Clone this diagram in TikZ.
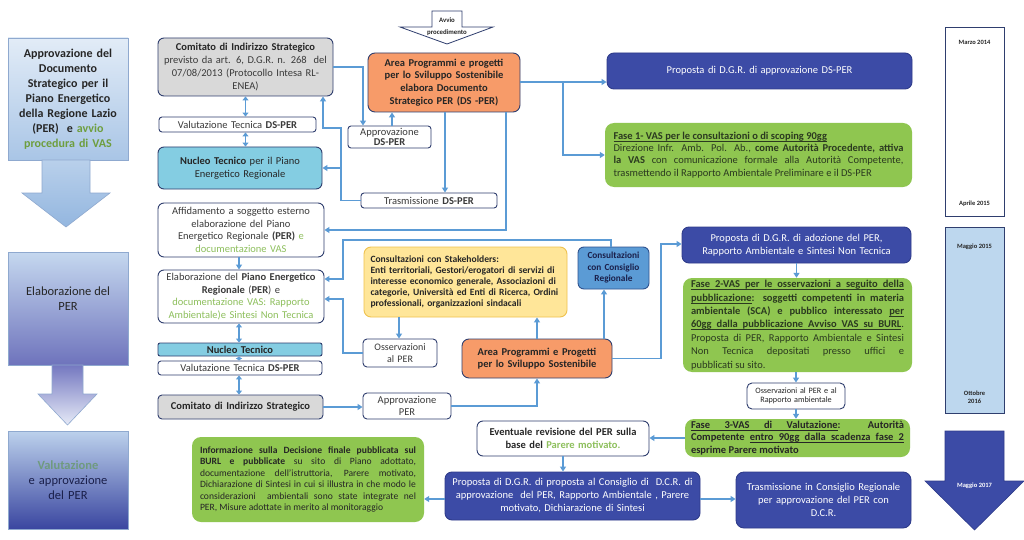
\documentclass[tikz,border=0pt]{standalone}
\usepackage{fontspec}
\setmainfont{Carlito}
\usetikzlibrary{arrows.meta}
\makeatletter
\newcommand\uw[1]{\setbox0\hbox{#1}\rlap{\vrule height -1.5pt depth 2.2pt width \wd0}\box0\relax}
\newcommand\us{\leaders\hrule height -1.5pt depth 2.2pt\hskip\fontdimen2\font plus \fontdimen3\font minus \fontdimen4\font\relax}
\def\UL#1{\UL@a#1 \@nil}
\def\UL@a#1 #2\@nil{\uw{#1}\ifx\relax#2\relax\else\us\UL@a#2\@nil\fi}
\makeatother
\definecolor{bord}{HTML}{2F3E6E}
\definecolor{conn}{HTML}{5B9BD5}
\definecolor{dblue}{HTML}{3C4BA6}
\definecolor{dbord}{HTML}{2E3B8A}
\definecolor{vgreen}{HTML}{8FC650}
\definecolor{orng}{HTML}{F79B69}
\definecolor{gry}{HTML}{D9D9D9}
\definecolor{cyn}{HTML}{84CDE2}
\definecolor{ylw}{HTML}{FFE699}
\definecolor{ylwb}{HTML}{EFC24F}
\definecolor{cblue}{HTML}{5B9BD5}
\definecolor{cbord}{HTML}{2F528F}
\definecolor{lgreen}{HTML}{8DBF5C}
\definecolor{vasgreen}{HTML}{6E9E3E}
\definecolor{valgreen}{HTML}{6F9A7F}
\definecolor{txt}{HTML}{262626}
\definecolor{gtxt}{HTML}{3A3A3A}
\definecolor{gdark}{HTML}{2B3A20}
\definecolor{rlblue}{HTML}{BDD7EE}
\definecolor{ltxt}{HTML}{1A1F4A}
\definecolor{lbb}{HTML}{8FA9CF}
\definecolor{la}{HTML}{E2ECF7}
\definecolor{lb}{HTML}{A9C5E6}
\definecolor{a1t}{HTML}{B9D0EB}
\definecolor{a1b}{HTML}{93B6DF}
\definecolor{l2t}{HTML}{C5D8EF}
\definecolor{l2b}{HTML}{6E73BC}
\definecolor{a2t}{HTML}{7478C0}
\definecolor{a2b}{HTML}{E6EAF7}
\definecolor{l3t}{HTML}{BCD1EC}
\definecolor{l3b}{HTML}{3A46A0}
\begin{document}
\begin{tikzpicture}[x=1pt,y=-1pt,
  every node/.style={text=txt},
  bx/.style n args={3}{minimum width=#1, minimum height=#2, text width=#3},
  wbox/.style={draw=bord, line width=0.9pt, fill=white, rounded corners=6pt, align=center, inner sep=1pt, font=\fontsize{10.5}{12.5}\selectfont, text=gtxt},
  sbox/.style={wbox, rounded corners=3pt},
  gbox/.style={wbox, fill=gry, text=txt},
  cbox/.style={wbox, fill=cyn, text=txt},
  obox/.style={draw=bord, line width=0.9pt, fill=orng, rounded corners=7pt, align=center, inner sep=1pt, font=\bfseries\fontsize{10.5}{12.7}\selectfont, text=txt},
  bbox/.style={draw=dbord, line width=0.9pt, fill=dblue, rounded corners=7pt, align=center, inner sep=1pt, font=\fontsize{10.5}{12.7}\selectfont, text=white},
  grbox/.style={fill=vgreen, rounded corners=9pt, inner sep=1pt, font=\fontsize{10.5}{12.3}\selectfont, text=gdark, align=justify},
  lbox/.style={draw=lbb, line width=0.6pt, align=center, inner sep=2pt, text width=114},
  rlab/.style={font=\bfseries\fontsize{6.5}{8}\selectfont, text=txt, align=center},
  arr/.style={draw=conn, line width=1.6pt, -{Triangle[length=5pt,width=6pt]}},
  dbl/.style={draw=conn, line width=1.6pt, {Triangle[length=4pt,width=6pt]}-{Triangle[length=4pt,width=6pt]}},
  sdbl/.style={draw=conn, line width=1.6pt, {Triangle[length=2.4pt,width=6pt]}-{Triangle[length=2.4pt,width=6pt]}},
]
\useasboundingbox (0,0) rectangle (1024,540);
\fill[white] (0,0) rectangle (1024,540);

% ---------- left column ----------
\node[lbox, top color=la, bottom color=lb, minimum width=120, minimum height=122, font=\bfseries\fontsize{12}{15}\selectfont] (l1) at (68,99) {Approvazione del\\Documento\\Strategico per il\\Piano Energetico\\della Regione Lazio\\(PER)\ \ e \textcolor{vasgreen}{avvio}\\\textcolor{vasgreen}{procedura di VAS}};
\path[draw=lbb, line width=0.6pt, top color=a1t, bottom color=a1b] (42,160) -- (90,160) -- (90,193) -- (110,193) -- (66,227) -- (22,193) -- (42,193) -- cycle;
\node[lbox, top color=l2t, bottom color=l2b, minimum width=120, minimum height=113] (l2) at (68,308.5) {};
\node[font=\fontsize{12.5}{15}\selectfont, align=center, text=txt] (l2t) at (68,299) {Elaborazione del\\PER};
\path[draw=lbb, line width=0.6pt, top color=a2t, bottom color=a2b] (52,365) -- (83,365) -- (83,394) -- (97,394) -- (67.5,425) -- (38,394) -- (52,394) -- cycle;
\node[lbox, top color=l3t, bottom color=l3b, minimum width=120, minimum height=98, font=\fontsize{12.5}{15}\selectfont, text=ltxt] (l3) at (68,480) {\textcolor{valgreen}{\bfseries Valutazione}\\e approvazione\\del PER};

% ---------- middle column ----------
\node[gbox, bx={175}{58}{170}, font=\fontsize{10.5}{12.7}\selectfont] (com1) at (245.5,67) {\textbf{Comitato di Indirizzo Strategico}\\\textcolor{gtxt}{previsto da art. 6, D.G.R. n. 268\ \ del}\\\textcolor{gtxt}{07/08/2013 (Protocollo Intesa RL-}\\\textcolor{gtxt}{ENEA)}};
\node[sbox, bx={157}{15}{155}] (val1) at (237.5,124.5) {Valutazione Tecnica \textbf{DS-PER}};
\node[cbox, bx={164}{42}{160}] (nuc1) at (240,168) {\textbf{Nucleo Tecnico} per il Piano\\Energetico Regionale};
\node[sbox, bx={83}{22}{80}, font=\fontsize{10.5}{10.5}\selectfont] (appr1) at (389.5,137) {Approvazione\\\textbf{DS-PER}};
\node[obox, bx={152}{59}{150}] (area1) at (444,82.5) {Area Programmi e progetti\\per lo Sviluppo Sostenibile\\elabora Documento\\Strategico PER (DS -PER)};
\path[draw=bord, fill=white, line width=0.8pt] (432,11) -- (462,11) -- (462,27) -- (493,27) -- (447,44) -- (400,27) -- (432,27) -- cycle;
\node[font=\bfseries\fontsize{6.8}{7}\selectfont] (avvio) at (447,20) {Avvio};
\node[font=\bfseries\fontsize{6.8}{7}\selectfont] (proc) at (447,32.5) {procedimento};
\node[sbox, bx={136}{15}{134}] (tras1) at (429,200.5) {Trasmissione \textbf{DS-PER}};

\node[wbox, bx={166}{54}{162}] (aff) at (241,230) {Affidamento a soggetto esterno\\elaborazione del Piano\\Energetico Regionale \textbf{(PER)} \textcolor{lgreen}{e}\\\textcolor{lgreen}{documentazione VAS}};
\node[wbox, bx={166}{53}{162}] (elab) at (241,296.5) {Elaborazione del \textbf{Piano Energetico}\\\textbf{Regionale} (\textbf{PER}) e\\\textcolor{lgreen}{documentazione VAS: Rapporto}\\\textcolor{lgreen}{Ambientale)e Sintesi Non Tecnica}};
\node[cbox, rounded corners=2pt, bx={164}{13}{160}, font=\bfseries\fontsize{10.5}{11}\selectfont] (nuc2) at (240,349.5) {Nucleo Tecnico};
\node[sbox, bx={164}{14}{160}] (val2) at (240,368) {Valutazione Tecnica \textbf{DS-PER}};
\node[gbox, rounded corners=4pt, bx={165}{24}{160}] (com2) at (240.5,407) {\textbf{Comitato di Indirizzo Strategico}};
\node[sbox, rounded corners=4pt, bx={88}{26}{85}, font=\fontsize{10.5}{12}\selectfont] (apprper) at (407,406) {Approvazione\\PER};
\node[obox, bx={150}{39}{146}, font=\bfseries\fontsize{10.5}{12.5}\selectfont] (area2) at (537,358.5) {Area Programmi e Progetti\\per lo Sviluppo Sostenibile};
\node[draw=ylwb, line width=0.9pt, fill=ylw, rounded corners=7pt, bx={203}{70}{190}, align=left, inner sep=1pt, font=\bfseries\fontsize{9.6}{10.8}\selectfont, text=txt] (stake) at (465.5,282) {Consultazioni con Stakeholders:\\Enti territoriali, Gestori/erogatori di servizi di\\interesse economico generale, Associazioni di\\categorie, Università ed Enti di Ricerca, Ordini\\professionali, organizzazioni sindacali};
\node[sbox, rounded corners=4pt, bx={74}{28}{72}, font=\fontsize{10}{11.7}\selectfont] (oss1) at (400,353) {Osservazioni\\al PER};
\node[draw=cbord, line width=0.9pt, fill=cblue, rounded corners=6pt, bx={71}{42}{69}, align=center, inner sep=1pt, font=\bfseries\fontsize{9.3}{11.5}\selectfont, text=ltxt] (cons) at (613.5,268) {Consultazioni\\con Consiglio\\Regionale};

% ---------- right part ----------
\node[bbox, bx={305}{36}{300}] (prop1) at (759.5,71) {Proposta di D.G.R. di approvazione DS-PER};
\node[grbox, bx={307}{64}{290}] (fase1) at (758.5,155) {\textbf{\UL{Fase 1- VAS per le consultazioni o di scoping 90gg}}\\Direzione Infr. Amb. Pol. Ab., \textbf{come Autorità Procedente, attiva}\linebreak\textbf{la VAS} con comunicazione formale alla Autorità Competente,\linebreak trasmettendo il Rapporto Ambientale Preliminare e il DS-PER};
\node[bbox, bx={229}{36}{225}] (prop2) at (796.5,245) {Proposta di D.G.R. di adozione del PER,\\Rapporto Ambientale e Sintesi Non Tecnica};
\node[grbox, bx={229}{94}{213}, font=\fontsize{10.5}{13.4}\selectfont] (fase2) at (797.5,325) {\textbf{\UL{Fase 2-VAS per le osservazioni a seguito della}\linebreak\UL{pubblicazione}: soggetti competenti in materia\linebreak ambientale (SCA) e pubblico interessato \UL{per}\linebreak\UL{60gg dalla pubblicazione Avviso VAS su BURL}}.\linebreak Proposta di PER, Rapporto Ambientale e Sintesi\linebreak Non Tecnica depositati presso uffici e\linebreak pubblicati su sito.};
\node[sbox, rounded corners=5pt, bx={98}{26}{96}, font=\fontsize{8.2}{9.5}\selectfont, text=txt] (oss2) at (796,396) {Osservazioni al PER e al\\Rapporto ambientale};
\node[grbox, bx={225}{38}{213}, font=\bfseries\fontsize{10.5}{12.8}\selectfont, text=txt] (fase3) at (797.5,438) {\UL{Fase 3-VAS di Valutazione}: Autorità\linebreak Competente \UL{entro 90gg dalla scadenza fase 2}\linebreak esprime Parere motivato};
\node[wbox, bx={172}{35}{168}, font=\bfseries\fontsize{10.5}{13}\selectfont, text=txt] (ev) at (563,438.5) {Eventuale revisione del PER sulla\\base del \textcolor{lgreen}{Parere motivato.}};
\node[bbox, bx={255}{48}{250}, font=\fontsize{10.5}{13}\selectfont] (prop3) at (572.5,496) {Proposta di D.G.R. di proposta al Consiglio di\ \ D.C.R. di\\approvazione\ \ del PER, Rapporto Ambientale , Parere\\motivato, Dichiarazione di Sintesi};
\node[bbox, rounded corners=8pt, bx={175}{56}{170}] (tras2) at (823.5,500) {Trasmissione in Consiglio Regionale\\per approvazione del PER con\\D.C.R.};
\node[grbox, bx={232}{85}{216}, font=\fontsize{9.6}{11.4}\selectfont, text=txt] (info) at (308,479.5) {\textbf{Informazione sulla Decisione finale pubblicata sul}\linebreak\textbf{BURL e pubblicate} su sito di Piano adottato,\linebreak documentazione dell’istruttoria, Parere motivato,\linebreak Dichiarazione di Sintesi in cui si illustra in che modo le\linebreak considerazioni\ \ ambientali sono state integrate nel\linebreak PER, Misure adottate in merito al monitoraggio};

% ---------- timeline ----------
\node[draw=bord, line width=0.8pt, fill=white, minimum width=59, minimum height=189] (r1) at (974.5,121.5) {};
\node[rlab] (t1) at (974.5,42) {Marzo 2014};
\node[rlab] (t2) at (974.5,204) {Aprile 2015};
\node[draw=bord, line width=0.8pt, fill=rlblue, minimum width=59, minimum height=186] (r2) at (974.5,320) {};
\node[rlab] (t3) at (974.5,247) {Maggio 2015};
\node[rlab] (t4) at (974.5,397) {Ottobre\\2016};
\path[fill=dblue, draw=dbord, line width=0.6pt] (945,431) -- (1004,431) -- (1004,481) -- (1024,481) -- (974.5,530) -- (925,481) -- (945,481) -- cycle;
\node[rlab, text=white] (t5) at (974.5,486) {Maggio 2017};

% ---------- connectors ----------
\draw[dbl] (com1.south) -- (com1.south |- val1.north);
\draw[dbl] (com1.south |- val1.south) -- (com1.south |- nuc1.north);
\draw[arr] (tras1.west) -- (341,200.5) -- (341,128) -- (323,128) -- (323,0 |- com1.south);
\draw[arr] (341,168) -- (nuc1.east);
\draw[arr] (com1.east) -- (363,67) -- (363,0 |- appr1.north);
\draw[arr] (392,0 |- appr1.north) -- (392,0 |- area1.south);
\draw[arr] (445,0 |- area1.south) -- (445,0 |- tras1.north);
\draw[arr] (506,0 |- area1.south) -- (506,230) -- (aff.east);
\draw[arr] (area1.east |- 0,82) -- (prop1.west |- 0,82);
\draw[arr] (563,82) -- (563,155) -- (fase1.west);
\draw[arr] (239,0 |- aff.south) -- (239,0 |- elab.north);
\draw[dbl] (239,0 |- elab.south) -- (239,0 |- nuc2.north);
\draw[sdbl] (239,0 |- nuc2.south) -- (239,0 |- val2.north);
\draw[dbl] (239,0 |- val2.south) -- (239,0 |- com2.north);
\draw[arr] (com2.east) -- (com2.east -| apprper.west);
\draw[arr] (apprper.east) -| (area2.south);
\draw[arr] (area2.north) -- (area2.north |- stake.south);
\draw[arr] (604,0 |- area2.north) -- (604,0 |- cons.south);
\draw[arr] (area2.east) -- (661,358.5) -- (661,244) -- (prop2.west |- 0,244);
\draw[arr] (399,0 |- stake.south) -- (399,0 |- oss1.north);
\draw[arr] (oss1.west) -- (343,353) -- (343,299) -- (elab.east |- 0,299);
\draw[arr] (611,0 |- cons.north) -- (611,240) -- (343,240) -- (343,279) -- (elab.east |- 0,279);
\draw[arr] (prop2.south) -- (prop2.south |- fase2.north);
\draw[arr] (oss2.north |- fase2.south) -- (oss2.north);
\draw[arr] (oss2.south) -- (oss2.south |- fase3.north);
\draw[arr] (fase3.west) -- (fase3.west -| ev.east);
\draw[arr] (ev.south) -- (ev.south |- prop3.north);
\draw[arr] (prop3.east |- 0,499) -- (tras2.west |- 0,499);
\draw[arr] (prop3.west |- 0,499) -- (info.east |- 0,499);
\end{tikzpicture}
\end{document}
